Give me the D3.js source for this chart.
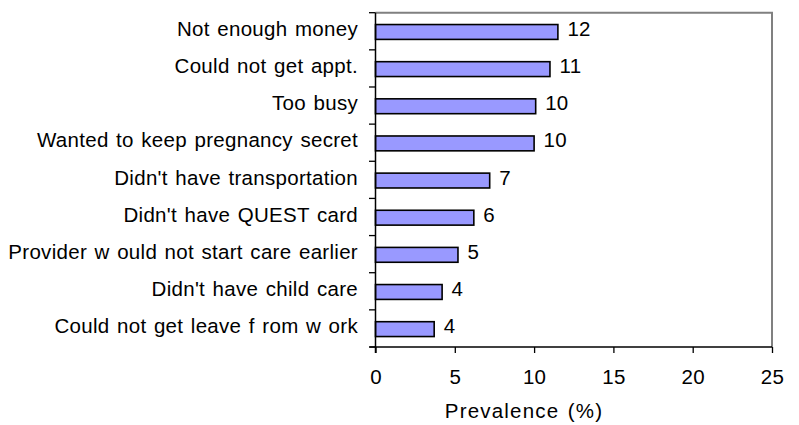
<!DOCTYPE html>
<html>
<head>
<meta charset="utf-8">
<script src="https://cdn.jsdelivr.net/npm/d3@7"></script>
<style>
  html, body { margin: 0; padding: 0; background: #fff; }
  svg text { font-family: "Liberation Sans", Arial, sans-serif; fill: #000; }
</style>
</head>
<body>
<svg id="chart" width="799" height="425"></svg>
<script>
// Reasons for delayed prenatal care, prevalence in percent
const reasons = [
  "Not enough money",
  "Could not get appt.",
  "Too busy",
  "Wanted to keep pregnancy secret",
  "Didn't have transportation",
  "Didn't have QUEST card",
  "Provider w ould not start care earlier",
  "Didn't have child care",
  "Could not get leave f rom w ork"
];
const prevalence = [11.5, 11.0, 10.1, 10.0, 7.2, 6.2, 5.2, 4.2, 3.7];
const xTicks = [0, 5, 10, 15, 20, 25];
const xTitle = "Prevalence (%)";

const W = 799, H = 425;
const margin = { top: 12.7, right: 27, bottom: 78, left: 375.5 };
const innerW = W - margin.left - margin.right;
const innerH = H - margin.top - margin.bottom;
const fontSize = 20.5;

const svg = d3.select("#chart");
const g = svg.append("g").attr("transform", `translate(${margin.left},${margin.top})`);

const x = d3.scaleLinear().domain([0, 25]).range([0, innerW]);
const y = d3.scaleBand().domain(reasons).range([0, innerH]).paddingInner(0.6).paddingOuter(0.3);
const yBand = d3.scaleBand().domain(reasons).range([0, innerH]);

// Plot frame: grey top and right edges
g.append("path")
  .attr("d", `M0,0H${innerW}V${innerH}`)
  .attr("fill", "none")
  .attr("stroke", "#808080")
  .attr("stroke-width", 2);

// Bars
const data = reasons.map((r, i) => ({ r, v: prevalence[i] }));
g.selectAll("rect.bar")
  .data(data)
  .join("rect")
  .attr("class", "bar")
  .attr("x", 0)
  .attr("y", d => y(d.r) + 0.7)
  .attr("width", d => x(d.v))
  .attr("height", y.bandwidth())
  .attr("fill", "#9999ff")
  .attr("stroke", "#000")
  .attr("stroke-width", 1.6);

// Value labels
g.selectAll("text.val")
  .data(data)
  .join("text")
  .attr("class", "val")
  .attr("x", d => x(d.v) + 9.5)
  .attr("y", d => yBand(d.r) + yBand.bandwidth() / 2 - 2.5)
  .attr("dy", "0.35em")
  .attr("font-size", fontSize)
  .attr("letter-spacing", "0.3px")
  .text(d => Math.round(d.v));

// Category axis: ticks on band boundaries pointing outward
const yAxisG = g.append("g");
yAxisG.append("line")
  .attr("x1", 0).attr("x2", 0).attr("y1", 0).attr("y2", innerH + 6)
  .attr("stroke", "#000").attr("stroke-width", 1.5);
const bounds = reasons.map(r => yBand(r)).concat([innerH]);
yAxisG.selectAll("line.tk")
  .data(bounds)
  .join("line")
  .attr("class", "tk")
  .attr("x1", -6.5).attr("x2", 0)
  .attr("y1", d => d).attr("y2", d => d)
  .attr("stroke", "#000").attr("stroke-width", 1.3);
yAxisG.selectAll("text")
  .data(reasons)
  .join("text")
  .attr("x", -17.5)
  .attr("y", d => yBand(d) + yBand.bandwidth() / 2 - 2.5)
  .attr("dy", "0.35em")
  .attr("text-anchor", "end")
  .attr("font-size", fontSize)
  .attr("letter-spacing", "0.3px")
  .attr("word-spacing", "1.5px")
  .text(d => d);

// Value axis
const xAxis = d3.axisBottom(x).tickValues(xTicks).tickSize(6).tickPadding(16).tickFormat(d3.format("d"));
const xAxisG = g.append("g")
  .attr("transform", `translate(0,${innerH})`)
  .call(xAxis);
xAxisG.select(".domain").attr("d", `M-6,0H${innerW}`).attr("stroke", "#000").attr("stroke-width", 1.5);
xAxisG.selectAll(".tick line").attr("stroke", "#000").attr("stroke-width", 1.3);
xAxisG.selectAll(".tick text")
  .attr("font-size", fontSize)
  .attr("font-family", "Liberation Sans, Arial, sans-serif")
  .attr("letter-spacing", "0.3px")
  .attr("fill", "#000");

// Axis title
svg.append("text")
  .attr("x", 524)
  .attr("y", 418)
  .attr("text-anchor", "middle")
  .attr("font-size", fontSize)
  .attr("letter-spacing", "1.2px")
  .attr("word-spacing", "1.5px")
  .text(xTitle);
</script>
</body>
</html>
